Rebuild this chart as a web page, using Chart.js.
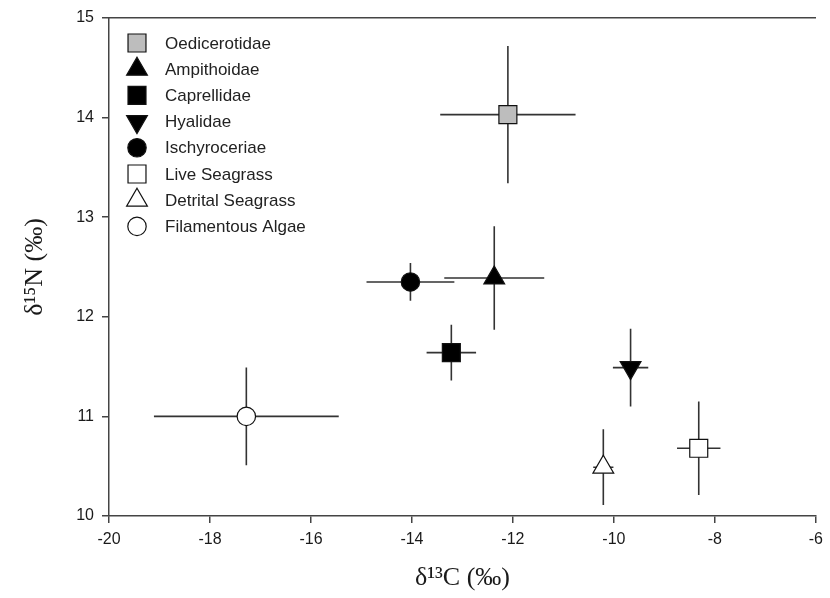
<!DOCTYPE html>
<html>
<head>
<meta charset="utf-8">
<script src="https://cdn.jsdelivr.net/npm/chart.js@4.4.0/dist/chart.umd.min.js"></script>
<style>
  html, body { margin: 0; padding: 0; background: #fff; }
  #wrap { width: 830px; height: 598px; }
</style>
</head>
<body>
<div id="wrap"><canvas id="myChart" width="830" height="598"></canvas></div>
<script>
const families = ['Oedicerotidae', 'Ampithoidae', 'Caprellidae', 'Hyalidae', 'Ischyroceriae', 'Live Seagrass', 'Detrital Seagrass', 'Filamentous Algae'];
const d13C = [-12.1, -12.37, -13.22, -9.67, -14.03, -8.32, -10.21, -17.28];
const d15N = [14.03, 12.39, 11.64, 11.49, 12.35, 10.68, 10.49, 11.0];
const sdC = [1.34, 0.99, 0.49, 0.35, 0.87, 0.43, 0.2, 1.83];
const sdN = [0.69, 0.52, 0.28, 0.39, 0.19, 0.47, 0.38, 0.49];
const xTicks = [-20, -18, -16, -14, -12, -10, -8, -6];
const yTicks = [10, 11, 12, 13, 14, 15];

// marker look for each family
const shapes = ['rect', 'triangle', 'rect', 'triangle', 'circle', 'rect', 'triangle', 'circle'];
const turns = [0, 0, 0, 180, 0, 0, 0, 0];
const fills = ['#bdbdbd', '#000', '#000', '#000', '#000', '#fff', '#fff', '#fff'];
const sizes = {rect: 12.7, triangle: 12, circle: 9.2};

const sans = "Arial, 'Liberation Sans', sans-serif";
const serif = "'Times New Roman', 'Liberation Serif', 'DejaVu Serif', serif";

const datasets = families.map((name, i) => ({
  label: name,
  data: [{x: d13C[i], y: d15N[i]}],
  pointStyle: shapes[i],
  rotation: turns[i],
  pointRadius: sizes[shapes[i]],
  pointHoverRadius: sizes[shapes[i]],
  backgroundColor: fills[i],
  borderColor: '#111',
  borderWidth: 1.2
}));

const errorBars = {
  id: 'errorBars',
  beforeDatasetsDraw(chart) {
    const {ctx, scales: {x, y}} = chart;
    ctx.save();
    ctx.strokeStyle = '#333';
    ctx.lineWidth = 1.6;
    families.forEach((f, i) => {
      const cx = x.getPixelForValue(d13C[i]);
      const cy = y.getPixelForValue(d15N[i]);
      ctx.beginPath();
      ctx.moveTo(x.getPixelForValue(d13C[i] - sdC[i]), cy);
      ctx.lineTo(x.getPixelForValue(d13C[i] + sdC[i]), cy);
      ctx.moveTo(cx, y.getPixelForValue(d15N[i] - sdN[i]));
      ctx.lineTo(cx, y.getPixelForValue(d15N[i] + sdN[i]));
      ctx.stroke();
    });
    ctx.restore();
  }
};

// legend sits inside the plot, top left
const insideLegend = {
  id: 'insideLegend',
  afterDraw(chart) {
    const {ctx, chartArea} = chart;
    ctx.save();
    ctx.font = '17px ' + sans;
    ctx.textBaseline = 'middle';
    chart.data.datasets.forEach((ds, i) => {
      const mx = chartArea.left + 28;
      const my = chartArea.top + 25 + i * 26.2;
      ctx.fillStyle = ds.backgroundColor;
      ctx.strokeStyle = ds.borderColor;
      ctx.lineWidth = 1.2;
      Chart.helpers.drawPoint(ctx, {
        pointStyle: ds.pointStyle,
        radius: ds.pointRadius,
        rotation: ds.rotation,
        borderWidth: 1.2
      }, mx, my);
      ctx.fillStyle = '#222';
      ctx.fillText(ds.label, chartArea.left + 56, my + 1);
    });
    ctx.restore();
  }
};

const ctx = document.getElementById('myChart').getContext('2d');
new Chart(ctx, {
  type: 'scatter',
  data: {datasets: datasets},
  plugins: [errorBars, insideLegend],
  options: {
    responsive: false,
    animation: false,
    layout: {padding: {top: 18, right: 6, left: 0, bottom: 0}},
    plugins: {
      legend: {display: false},
      tooltip: {enabled: false}
    },
    scales: {
      x: {
        type: 'linear',
        position: 'bottom',
        min: -20,
        max: -6,
        afterBuildTicks: s => { s.ticks = xTicks.map(v => ({value: v})); },
        ticks: {color: '#1a1a1a', font: {family: sans, size: 16}, padding: 7},
        grid: {display: true, drawOnChartArea: false, tickLength: 7, color: '#444', lineWidth: 1.5},
        border: {display: true, color: '#444', width: 1.5},
        title: {display: true, text: 'δ¹³C (‰)', color: '#1a1a1a', font: {family: serif, size: 26}, padding: {top: 0, bottom: 4}},
        afterFit: s => { s.height = 82; }
      },
      x2: {
        type: 'linear',
        axis: 'x',
        position: 'top',
        min: -20,
        max: -6,
        ticks: {display: false},
        grid: {display: false},
        border: {display: true, color: '#444', width: 1.5},
        afterFit: s => { s.height = 0; }
      },
      y: {
        type: 'linear',
        position: 'left',
        min: 10,
        max: 15,
        afterBuildTicks: s => { s.ticks = yTicks.map(v => ({value: v})); },
        ticks: {color: '#1a1a1a', font: {family: sans, size: 16}, padding: 8},
        grid: {display: true, drawOnChartArea: false, tickLength: 7, color: '#444', lineWidth: 1.5},
        border: {display: true, color: '#444', width: 1.5},
        title: {display: true, text: 'δ¹⁵N (‰)', color: '#1a1a1a', font: {family: serif, size: 26}, padding: {top: 20, bottom: 0}},
        afterFit: s => { s.width = 109; }
      }
    }
  }
});
</script>
</body>
</html>
